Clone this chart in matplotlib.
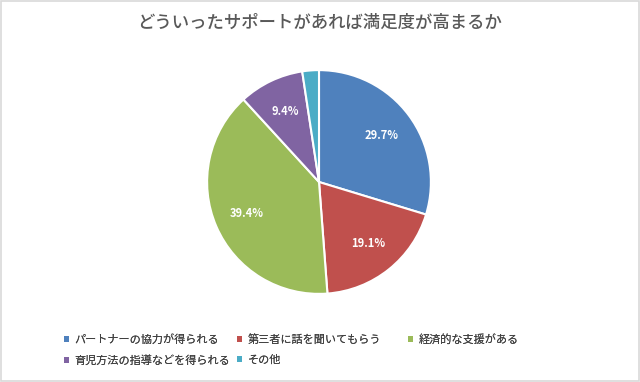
import matplotlib
matplotlib.use("Agg")
import matplotlib.pyplot as plt
from matplotlib.patches import Rectangle, Patch

plt.rcParams['font.family'] = ['Noto Sans CJK JP', 'DejaVu Sans']

# --- データ ---
title = 'どういったサポートがあれば満足度が高まるか'
labels = ['パートナーの協力が得られる', '第三者に話を聞いてもらう', '経済的な支援がある',
          '育児方法の指導などを得られる', 'その他']
values = [29.7, 19.1, 39.4, 9.4, 2.4]
colors = ['#4F81BD', '#C0504D', '#9BBB59', '#8064A2', '#4BACC6']

W, H = 640, 382
fig = plt.figure(figsize=(W / 100, H / 100), dpi=100)

# 枠線
fig.patches.append(Rectangle((0.002, 0.003), 0.996, 0.994, transform=fig.transFigure,
                             fill=False, edgecolor='#d9d9d9', linewidth=1.2))

# 円グラフ (中心 319,182 px, 半径 113 px)
cx, cy, r = 319, 182, 113
ax = fig.add_axes([(cx - r) / W, (H - cy - r) / H, 2 * r / W, 2 * r / H])


def fmt(p):
    return f'{p:.1f}%' if p >= 5 else ''


wedges, texts, autotexts = ax.pie(values, colors=colors, startangle=90, counterclock=False,
                                  autopct=fmt, pctdistance=0.7,
                                  wedgeprops=dict(edgecolor='white', linewidth=1.5),
                                  textprops=dict(color='white', fontsize=8, fontweight='bold'))
ax.set_xlim(-1.01, 1.01)
ax.set_ylim(-1.01, 1.01)
ax.set_aspect('equal')

fig.text(0.5, 1 - 23 / H, title, ha='center', va='center', fontsize=12.5,
         color='#595959', fontweight='medium')

# 凡例: 3列をそれぞれ別の凡例で並べる (列幅を揃える)
col_x = [60, 233, 404]
columns = [[0, 3], [1, 4], [2]]
for x, idx in zip(col_x, columns):
    handles = [Patch(facecolor=colors[i], edgecolor='none') for i in idx]
    leg = fig.legend(handles, [labels[i] for i in idx], loc='upper left',
                     bbox_to_anchor=(x / W, 1 - 330 / H), frameon=False,
                     fontsize=8, handlelength=0.45, handleheight=0.45, handletextpad=0.45,
                     labelspacing=0.85, labelcolor='#404040', borderaxespad=0)
    fig.add_artist(leg)

fig.savefig('out.png', dpi=100)
